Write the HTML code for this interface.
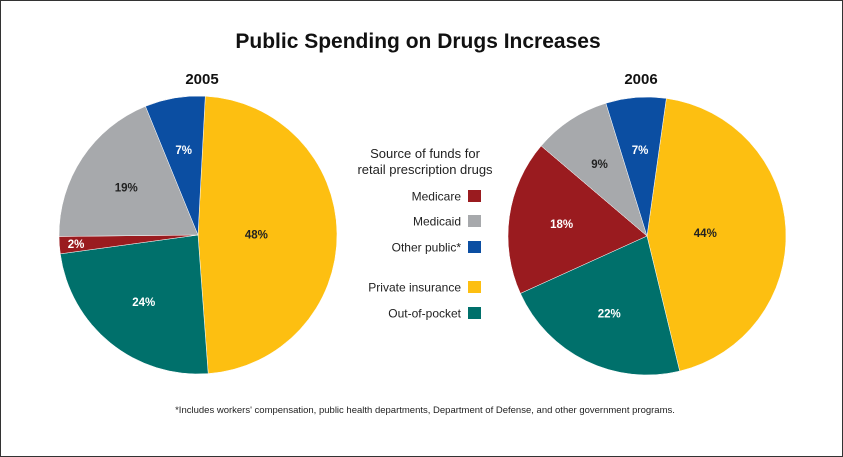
<!DOCTYPE html>
<html><head><meta charset="utf-8"><style>
body{margin:0;background:#fff;}
svg{display:block;font-family:"Liberation Sans",Arial,sans-serif;}
</style></head><body>
<svg id="chart" width="843" height="457">
<rect x="0.5" y="0.5" width="842" height="456" fill="#fff" stroke="#333"/>
<text x="418" y="48" text-anchor="middle" font-size="21" font-weight="bold" fill="#111">Public Spending on Drugs Increases</text>
<text x="202" y="84" text-anchor="middle" font-size="15" font-weight="bold" fill="#111">2005</text>
<text x="641" y="84" text-anchor="middle" font-size="15" font-weight="bold" fill="#111">2006</text>
<text x="425" y="158" text-anchor="middle" font-size="13" fill="#222">Source of funds for</text>
<text x="425" y="174" text-anchor="middle" font-size="13" fill="#222">retail prescription drugs</text>
<g id="legend"></g>
<g id="pies"></g>
<text x="425" y="413" text-anchor="middle" font-size="9.5" fill="#222">*Includes workers' compensation, public health departments, Department of Defense, and other government programs.</text>
</svg>
<script>
const NS="http://www.w3.org/2000/svg";
const categories=["Private insurance","Out-of-pocket","Medicare","Medicaid","Other public*"];
const colors=["#fdbf11","#00706b","#9a1b1f","#a7a9ac","#0b4ea2"];
const values2005=[48,24,2,19,7];
const values2006=[44,22,18,9,7];
const legendOrder=[2,3,4,0,1];
const legendY=[196,221,247,287,313];
function mk(t,a){const e=document.createElementNS(NS,t);for(const k in a)e.setAttribute(k,a[k]);return e;}
const lg=document.getElementById('legend');
legendOrder.forEach((ci,i)=>{
  const t=mk('text',{x:461,y:legendY[i]+4.5,'text-anchor':'end','font-size':12,fill:'#222'});
  t.textContent=categories[ci];
  
  
  lg.appendChild(t);
  const r=mk('rect',{x:468,y:legendY[i]-6,width:13,height:12,fill:colors[ci]});
  
  
  lg.appendChild(r);
});
const pg=document.getElementById('pies');
function pie(vals,cx,cy,R,start,year){
  const tot=vals.reduce((a,b)=>a+b,0);
  let a=start;
  vals.forEach((v,i)=>{
    const sweep=v/tot*360;
    const a0=a*Math.PI/180,a1=(a+sweep)*Math.PI/180;
    const x0=cx+R*Math.sin(a0),y0=cy-R*Math.cos(a0),x1=cx+R*Math.sin(a1),y1=cy-R*Math.cos(a1);
    const p=mk('path',{d:`M${cx},${cy}L${x0},${y0}A${R},${R} 0 ${sweep>180?1:0} 1 ${x1},${y1}Z`,fill:colors[i],stroke:'#fff','stroke-width':0.5});
    
    
    pg.appendChild(p);
    const m=(a+sweep/2)*Math.PI/180, lr=R*(v<4?0.88:(v>40?0.42:0.62));
    const t=mk('text',{x:cx+lr*Math.sin(m),y:cy-lr*Math.cos(m)+4,'text-anchor':'middle','font-size':11.5,'font-weight':'bold',fill:(i==0?'#222':(i==3?'#222':'#fff'))});
    t.textContent=v+'%';
    
    
    pg.appendChild(t);
    a+=sweep;
  });
}
pie(values2005,198,235,139,3,'2005');
pie(values2006,647,236,139,8,'2006');
</script>
</body></html>
